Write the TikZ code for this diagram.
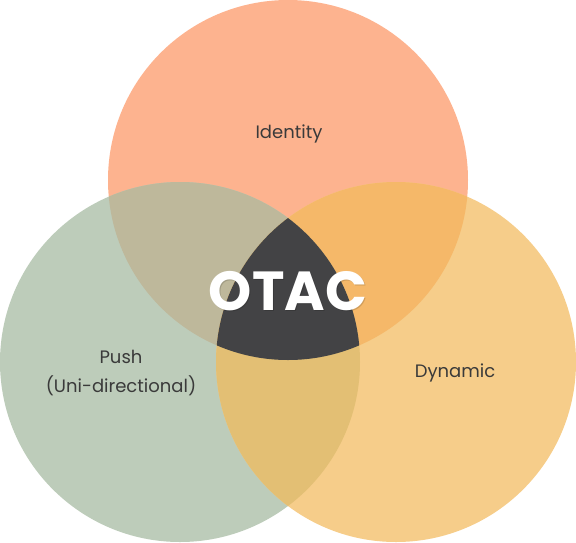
\documentclass[tikz,border=0pt]{standalone}
\usepackage{fontspec}
\setmainfont{Poppins}
\definecolor{cId}{HTML}{FDB38F}
\definecolor{cPush}{HTML}{BDCCBA}
\definecolor{cDyn}{HTML}{F6CD8A}
\definecolor{cIP}{HTML}{BEB89B}
\definecolor{cID}{HTML}{F5B869}
\definecolor{cPD}{HTML}{E3BF74}
\definecolor{cMid}{HTML}{434345}
\definecolor{cTxt}{HTML}{3A3A3A}
\begin{document}
\begin{tikzpicture}[x=1pt,y=-1pt,
  lbl/.style={text=cTxt,font=\fontsize{18}{22}\selectfont,align=center},
  big/.style={font=\fontsize{55}{58}\selectfont\bfseries}]
\useasboundingbox (0,0) rectangle (576,542);
\def\cId{(288,180) circle[radius=180]}
\def\cPu{(180,362) circle[radius=180]}
\def\cDy{(396,362) circle[radius=180]}
\fill[cId] \cId;
\fill[cPush] \cPu;
\fill[cDyn] \cDy;
\begin{scope}\clip \cId; \fill[cIP] \cPu; \end{scope}
\begin{scope}\clip \cId; \fill[cID] \cDy; \end{scope}
\begin{scope}\clip \cPu; \fill[cPD] \cDy; \end{scope}
\begin{scope}\clip \cId; \clip \cPu; \fill[cMid] \cDy; \end{scope}
\node[lbl] (identity) at (289,134) {Identity};
\node[lbl] (push) at (121,373) {Push\\[7pt](Uni-directional)};
\node[lbl] (dynamic) at (455,373) {Dynamic};
\node[big,text=black,opacity=0.15] (otacshadow) at (289,292.5) {OTAC};
\node[big,text=white] (otac) at (288,291) {OTAC};
\end{tikzpicture}
\end{document}
